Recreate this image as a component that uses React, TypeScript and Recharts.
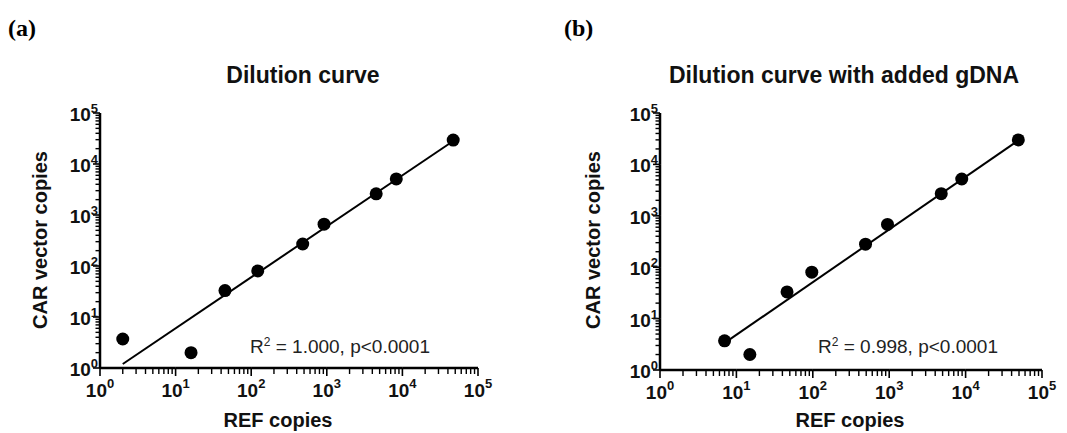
import React from 'react';
import { ScatterChart, Scatter, XAxis, YAxis } from 'recharts';

const FONT = '"Liberation Sans", Arial, Helvetica, sans-serif';
const SERIF = '"Liberation Serif", "Times New Roman", serif';

// (a) dilution curve
const refA = [2, 16, 45, 122, 480, 920, 4500, 8300, 47000];
const carA = [3.7, 2, 33, 80, 270, 660, 2600, 5100, 29500];
const fitRefA = [2, 45000];
const fitCarA = [1.2, 27000];

// (b) dilution curve with added gDNA
const refB = [7, 15, 46, 97, 490, 950, 4800, 8900, 49000];
const carB = [3.7, 2, 33, 80, 280, 680, 2700, 5200, 30000];
const fitRefB = [7.1, 47000];
const fitCarB = [3.4, 28000];

const decades = [1, 10, 100, 1000, 10000, 100000];
const minorSteps = [2, 3, 4, 5, 6, 7, 8, 9];

const toPoints = (xs: number[], ys: number[]) => xs.map((x, i) => ({ x, y: ys[i] }));
const expOf = (v: number) => Math.round(Math.log10(v));
const TOP = 100000;

// decade tick + the minor ticks of the decade above it; span = pixels per decade
const YTick = (props: any) => {
  const { x, y, payload, span } = props;
  const v = payload.value;
  return (
    <g>
      {v < TOP ? <rect x={x - 1.25} y={y - span} width={2.5} height={span} fill="#000" /> : null}
      <rect x={x - 7} y={y - 0.8} width={7} height={1.6} fill="#000" />
      {v < TOP
        ? minorSteps.map(s => (
            <rect key={s} x={x - 4.5} y={y - Math.log10(s) * span - 0.7} width={4.5} height={1.4} fill="#000" />
          ))
        : null}
      <text x={x - 2} y={y + 8} textAnchor="end" fontFamily={FONT} fontWeight="bold" fontSize={19} fill="#111">
        <tspan>10</tspan>
        <tspan dy={-8} fontSize={13}>{expOf(v)}</tspan>
      </text>
    </g>
  );
};

const XTick = (props: any) => {
  const { x, y, payload, span } = props;
  const v = payload.value;
  return (
    <g>
      {v < TOP ? <rect x={x} y={y - 1.25} width={span} height={2.5} fill="#000" /> : null}
      <rect x={x - 0.8} y={y} width={1.6} height={8} fill="#000" />
      {v < TOP
        ? minorSteps.map(s => (
            <rect key={s} x={x + Math.log10(s) * span - 0.7} y={y} width={1.4} height={6} fill="#000" />
          ))
        : null}
      <text x={x} y={y + 29} textAnchor="middle" fontFamily={FONT} fontWeight="bold" fontSize={19} fill="#111">
        <tspan>10</tspan>
        <tspan dy={-9} fontSize={13}>{expOf(v)}</tspan>
      </text>
    </g>
  );
};

const Dot = (p: any) => <circle cx={p.cx} cy={p.cy} r={6.5} fill="#000" />;
const NoDot = () => <g />;

interface PanelProps {
  left: number;
  margin: { top: number; right: number; bottom: number; left: number };
  points: { x: number; y: number }[];
  fit: { x: number; y: number }[];
}

const Panel: React.FC<PanelProps> = ({ left, margin, points, fit }) => {
  const plotW = 533 - margin.left - 60 - margin.right;
  const plotH = 433 - margin.top - margin.bottom - 40;
  return (
    <div style={{ position: 'absolute', left, top: 0 }}>
      <ScatterChart width={533} height={433} margin={margin}>
        <XAxis
          type="number" dataKey="x" scale="log" domain={[1, 100000]}
          ticks={decades} tick={<XTick span={plotW / 5} />}
          tickSize={0} tickMargin={0} height={40} stroke="#000"
        />
        <YAxis
          type="number" dataKey="y" scale="log" domain={[1, 100000]}
          ticks={decades} tick={<YTick span={plotH / 5} />}
          tickSize={0} tickMargin={0} width={60} stroke="#000"
        />
        <Scatter data={fit} line={{ stroke: '#000', strokeWidth: 2 }} shape={NoDot} isAnimationActive={false} />
        <Scatter data={points} shape={Dot} isAnimationActive={false} />
      </ScatterChart>
    </div>
  );
};

const base: React.CSSProperties = { position: 'absolute', lineHeight: 1, whiteSpace: 'nowrap', color: '#111', fontFamily: FONT };
const sup: React.CSSProperties = { fontSize: 12, position: 'relative', top: -7 };

const App: React.FC = () => (
  <div style={{ position: 'absolute', left: 0, top: 0, width: 1067, height: 433, background: '#fff' }}>
    <div style={{ ...base, left: 8, top: 16, fontFamily: SERIF, fontWeight: 'bold', fontSize: 24, color: '#000' }}>(a)</div>
    <div style={{ ...base, left: 564, top: 16, fontFamily: SERIF, fontWeight: 'bold', fontSize: 24, color: '#000' }}>(b)</div>

    <div style={{ ...base, left: 103, width: 400, top: 63.5, textAlign: 'center', fontWeight: 'bold', fontSize: 23 }}>Dilution curve</div>
    <div style={{ ...base, left: 644, width: 400, top: 63.5, textAlign: 'center', fontWeight: 'bold', fontSize: 23 }}>Dilution curve with added gDNA</div>

    <div style={{ ...base, left: 178, width: 200, top: 410, textAlign: 'center', fontWeight: 'bold', fontSize: 20 }}>REF copies</div>
    <div style={{ ...base, left: 750, width: 200, top: 410, textAlign: 'center', fontWeight: 'bold', fontSize: 20 }}>REF copies</div>

    <div style={{ ...base, left: -110, width: 300, top: 230, textAlign: 'center', fontWeight: 'bold', fontSize: 20, transform: 'rotate(-90deg)' }}>CAR vector copies</div>
    <div style={{ ...base, left: 443, width: 300, top: 230, textAlign: 'center', fontWeight: 'bold', fontSize: 20, transform: 'rotate(-90deg)' }}>CAR vector copies</div>

    <div style={{ ...base, left: 250, top: 337, fontSize: 19, color: '#222' }}>
      R<span style={sup}>2</span> = 1.000, p&lt;0.0001
    </div>
    <div style={{ ...base, left: 818, top: 337, fontSize: 19, color: '#222' }}>
      R<span style={sup}>2</span> = 0.998, p&lt;0.0001
    </div>

    <Panel
      left={0}
      margin={{ top: 113, right: 55, bottom: 25, left: 40 }}
      points={toPoints(refA, carA)}
      fit={toPoints(fitRefA, fitCarA)}
    />
    <Panel
      left={534}
      margin={{ top: 113, right: 25, bottom: 23, left: 66 }}
      points={toPoints(refB, carB)}
      fit={toPoints(fitRefB, fitCarB)}
    />
  </div>
);

export default App;
